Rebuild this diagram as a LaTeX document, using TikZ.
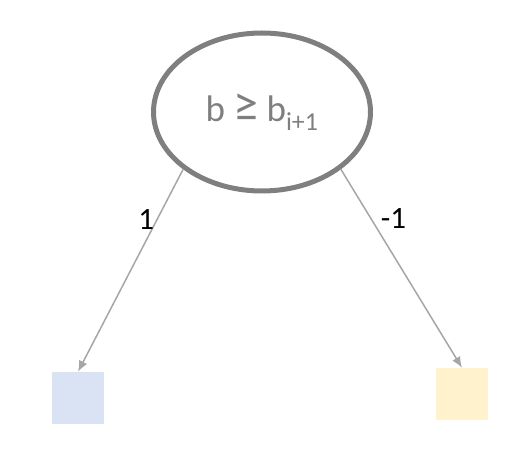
\documentclass[tikz,border=0pt]{standalone}
\usepackage{fontspec}
\setmainfont{Carlito}
\usepackage{xcolor}
\usetikzlibrary{arrows.meta,positioning,shapes.geometric}
\definecolor{edgegray}{RGB}{127,127,127}
\definecolor{linkgray}{RGB}{166,166,166}
\definecolor{leafblue}{RGB}{218,227,243}
\definecolor{leafyellow}{RGB}{255,242,204}
\newcommand{\bigge}{{\fontsize{50}{50}\selectfont ≥}}
\tikzset{%
	test/.style   = {draw=edgegray, ellipse, line width=5pt, minimum width=217pt, minimum height=158pt, text=edgegray, font=\fontsize{37}{44}\selectfont}, % comparison
	leaf/.style   = {rectangle, minimum width=52pt, minimum height=52pt, inner sep=0pt}, % Output
	link/.style   = {draw=linkgray, line width=1.5pt, -{Latex[length=11pt,width=9pt]}},
	weight/.style = {font=\fontsize{31}{37}\selectfont, inner sep=2pt},
}
\begin{document}
\begin{tikzpicture}[x=1pt, y=1pt, on grid]
	\useasboundingbox (0,0) rectangle (532,466);
	\node[test] (cmp) at (262,354) {b \bigge{} b\textsubscript{i+1}};
	\node[leaf,fill=leafblue,below left=286pt and 184pt of cmp] (lo) {};
	\node[leaf,fill=leafyellow,below right=282pt and 200pt of cmp] (hi) {};
	\draw[link] (cmp.216) -- node[weight,pos=0.25,left] {1} (lo.north);
	\draw[link] (cmp.324) -- node[weight,pos=0.25,right=7pt] {-1} (hi.north);
\end{tikzpicture}
\end{document}
